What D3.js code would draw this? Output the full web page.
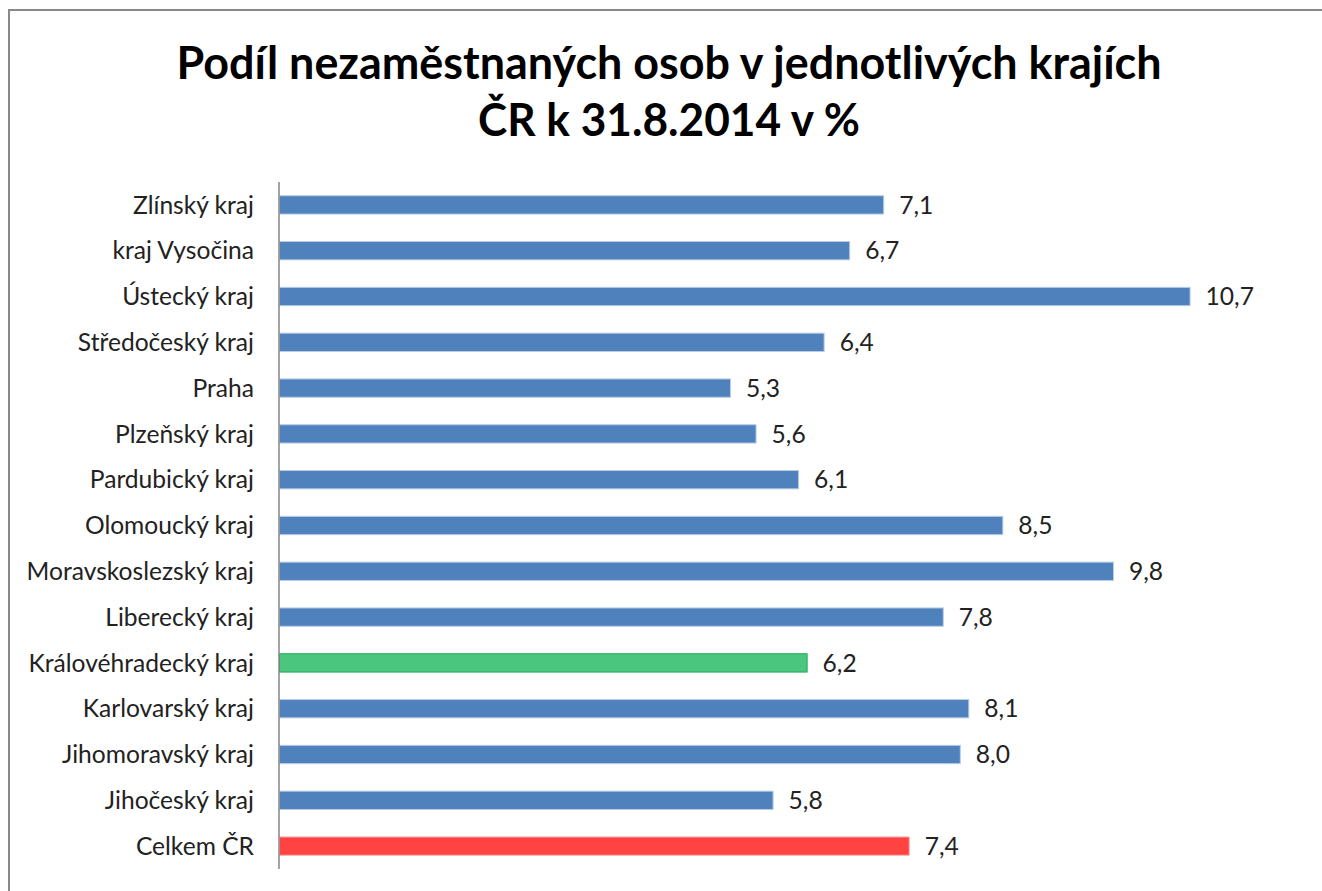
<!DOCTYPE html>
<html><head><meta charset="utf-8">
<script src="https://cdn.jsdelivr.net/npm/d3@7"></script>
<style>body{margin:0;background:#fff;} svg{display:block;}</style>
</head><body>
<svg id="chart" width="1322" height="891"></svg>
<script>
const categories = ["Zlínský kraj","kraj Vysočina","Ústecký kraj","Středočeský kraj","Praha","Plzeňský kraj","Pardubický kraj","Olomoucký kraj","Moravskoslezský kraj","Liberecký kraj","Královéhradecký kraj","Karlovarský kraj","Jihomoravský kraj","Jihočeský kraj","Celkem ČR"];
const values = [7.1,6.7,10.7,6.4,5.3,5.6,6.1,8.5,9.8,7.8,6.2,8.1,8.0,5.8,7.4];
const highlight = {"Královéhradecký kraj":"green","Celkem ČR":"red"};
const titleLines = ["Podíl nezaměstnaných osob v jednotlivých krajích","ČR k 31.8.2014 v %"];

const svg = d3.select("#chart");
const W = 1322, H = 891;
svg.append("rect").attr("x",0).attr("y",0).attr("width",W).attr("height",H).attr("fill","#fff");
// outer frame
svg.append("rect").attr("x",9).attr("y",10).attr("width",1320).attr("height",900)
  .attr("fill","none").attr("stroke","#888").attr("stroke-width",2);

const font = "Lato, 'Open Sans', sans-serif";
svg.selectAll("text.title").data(titleLines).join("text")
  .attr("class","title")
  .attr("x",669).attr("y",(d,i)=>79+i*57)
  .attr("text-anchor","middle")
  .attr("font-family",font).attr("font-weight","bold").attr("font-size",46)
  .attr("fill","#000")
  .attr("textLength",(d,i)=> i===0 ? 985 : 382)
  .attr("lengthAdjust","spacingAndGlyphs")
  .text(d=>d);

const x0 = 279;
const x = d3.scaleLinear().domain([0,12]).range([x0, x0 + 12*85.1]);
const y = d3.scaleBand().domain(categories).range([182,869]).paddingInner(0.6).paddingOuter(0.3);

const fillFor = c => highlight[c]==="green" ? "#4BC67E" : highlight[c]==="red" ? "#FF4343" : "#4F81BD";
const strokeFor = c => highlight[c]==="green" ? "#1FAA57" : highlight[c]==="red" ? "#FFB0B0" : "#B9CDE5";

const data = categories.map((c,i)=>({c, v: values[i]}));

svg.append("g").selectAll("rect").data(data).join("rect")
  .attr("x", x(0)+0.5)
  .attr("y", d=>y(d.c))
  .attr("width", d=>x(d.v)-x(0))
  .attr("height", y.bandwidth())
  .attr("fill", d=>fillFor(d.c))
  .attr("stroke", d=>strokeFor(d.c))
  .attr("stroke-width",1);

// axis
const yAxis = d3.axisLeft(y).tickSize(0).tickPadding(25);
const ag = svg.append("g").attr("transform",`translate(${x0},0)`).call(yAxis);
ag.select(".domain").attr("stroke","#868686").attr("stroke-width",1.5).attr("d","M0,182V869");
ag.selectAll("text").attr("font-family",font).attr("font-size",24.6).attr("fill","#222")
  .attr("dy","0.35em");

// value labels
svg.append("g").selectAll("text").data(data).join("text")
  .attr("x", d=>x(d.v)+16)
  .attr("y", d=>y(d.c)+y.bandwidth()/2)
  .attr("dy","0.35em")
  .attr("font-family",font).attr("font-size",24.6).attr("fill","#222")
  .text(d=>d3.format(".1f")(d.v).replace(".",","));
</script>
</body></html>
